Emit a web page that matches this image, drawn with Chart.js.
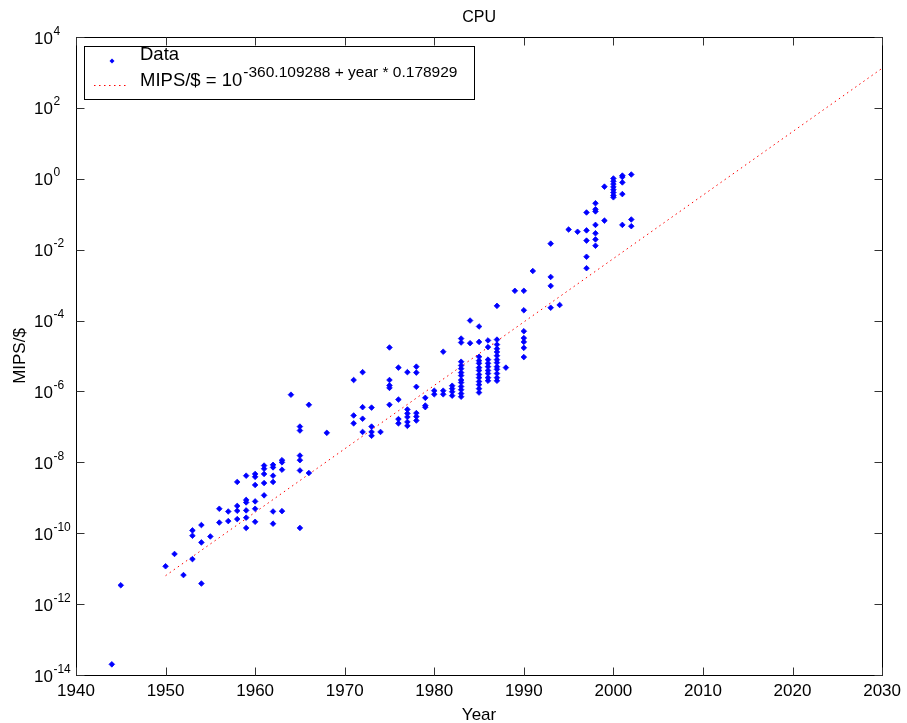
<!DOCTYPE html>
<html><head><meta charset="utf-8">
<script src="https://cdn.jsdelivr.net/npm/chart.js@4.4.0/dist/chart.umd.min.js"></script>
<style>html,body{margin:0;padding:0;background:#fff;overflow:hidden}#wrap{width:907px;height:723px;position:relative}</style>
</head><body><div id="wrap"><canvas id="c" width="907" height="723"></canvas></div>
<script>
const chartTitle = 'CPU';
const xAxisLabel = 'Year';
const yAxisLabel = 'MIPS/$';
const xTicks = [1940, 1950, 1960, 1970, 1980, 1990, 2000, 2010, 2020, 2030];
const yTickExponents = [4, 2, 0, -2, -4, -6, -8, -10, -12, -14];
const legendData = 'Data';
const legendFitBase = 'MIPS/$ = 10';
const legendFitExp = '-360.109288 + year * 0.178929';

const dataYears = [
  1944, 1945, 1950, 1951, 1952,
  1953, 1953, 1953,
  1954, 1954, 1954,
  1955,
  1956, 1956,
  1957, 1957,
  1958, 1958, 1958, 1958,
  1959, 1959, 1959, 1959, 1959, 1959,
  1960, 1960, 1960, 1960, 1960, 1960,
  1961, 1961, 1961, 1961, 1961,
  1962, 1962, 1962, 1962, 1962, 1962,
  1963, 1963, 1963, 1963,
  1964,
  1965, 1965, 1965, 1965, 1965, 1965,
  1966, 1966,
  1968,
  1971, 1971, 1971,
  1972, 1972, 1972, 1972,
  1973, 1973, 1973, 1973,
  1974,
  1975, 1975, 1975, 1975, 1975,
  1976, 1976, 1976, 1976,
  1977, 1977, 1977, 1977, 1977, 1977,
  1978, 1978, 1978, 1978, 1978, 1978,
  1979, 1979, 1979,
  1980, 1980,
  1981, 1981, 1981,
  1982, 1982, 1982, 1982,
  1983, 1983, 1983, 1983, 1983, 1983, 1983, 1983, 1983, 1983, 1983, 1983, 1983,
  1984, 1984,
  1985, 1985, 1985, 1985, 1985, 1985, 1985, 1985, 1985, 1985, 1985, 1985, 1985,
  1986, 1986, 1986, 1986, 1986, 1986, 1986, 1986, 1986,
  1987, 1987, 1987, 1987, 1987, 1987, 1987, 1987, 1987, 1987, 1987, 1987, 1987,
  1988,
  1989,
  1990, 1990, 1990, 1990, 1990, 1990, 1990,
  1991,
  1993, 1993, 1993, 1993,
  1994,
  1995,
  1996,
  1997, 1997, 1997, 1997, 1997,
  1998, 1998, 1998, 1998, 1998, 1998, 1998,
  1999, 1999,
  2000, 2000, 2000, 2000, 2000, 2000, 2000, 2000,
  2001, 2001, 2001, 2001, 2001,
  2002, 2002, 2002
];
const dataMips = [
  2.0e-14, 3.4e-12, 1.17e-11, 2.6e-11, 6.6e-12,
  1.2e-10, 8.5e-11, 1.86e-11,
  1.7e-10, 5.5e-11, 3.8e-12,
  8.1e-11,
  4.9e-10, 2.0e-10,
  4.1e-10, 2.2e-10,
  2.8e-9, 5.9e-10, 4.3e-10, 2.5e-10,
  4.2e-9, 8.7e-10, 7.4e-10, 4.4e-10, 2.75e-10, 1.41e-10,
  4.7e-9, 3.9e-9, 2.3e-9, 7.9e-10, 4.9e-10, 2.1e-10,
  8.1e-9, 6.6e-9, 4.7e-9, 2.6e-9, 1.17e-9,
  8.5e-9, 7.2e-9, 4.2e-9, 2.8e-9, 4.1e-10, 1.86e-10,
  1.15e-8, 1.0e-8, 6.2e-9, 4.2e-10,
  8.1e-7,
  1.02e-7, 7.9e-8, 1.55e-8, 1.15e-8, 5.9e-9, 1.41e-10,
  4.2e-7, 5.0e-9,
  6.8e-8,
  2.1e-6, 2.1e-7, 1.26e-7,
  3.5e-6, 3.6e-7, 1.7e-7, 7.2e-8,
  3.5e-7, 1.02e-7, 7.2e-8, 5.6e-8,
  7.2e-8,
  1.74e-5, 2.1e-6, 1.48e-6, 1.26e-6, 4.2e-7,
  4.7e-6, 5.9e-7, 1.66e-7, 1.26e-7,
  3.5e-6, 3.1e-7, 2.4e-7, 1.9e-7, 1.38e-7, 1.07e-7,
  5.0e-6, 3.4e-6, 1.35e-6, 2.45e-7, 1.95e-7, 1.51e-7,
  6.6e-7, 4.0e-7, 3.6e-7,
  1.05e-6, 8.3e-7,
  1.32e-5, 1.05e-6, 8.3e-7,
  1.45e-6, 1.2e-6, 9.8e-7, 7.6e-7,
  3.1e-5, 2.4e-5, 6.9e-6, 5.4e-6, 4.4e-6, 3.4e-6, 2.8e-6, 2.1e-6, 1.78e-6, 1.38e-6, 1.12e-6, 8.7e-7, 7.1e-7,
  1.0e-4, 2.3e-5,
  6.8e-5, 2.5e-5, 9.5e-6, 7.4e-6, 6.2e-6, 4.7e-6, 3.9e-6, 3.0e-6, 2.45e-6, 1.9e-6, 1.55e-6, 1.2e-6, 9.3e-7,
  2.75e-5, 1.78e-5, 7.9e-6, 6.2e-6, 5.0e-6, 3.9e-6, 3.2e-6, 2.45e-6, 2.0e-6,
  2.6e-4, 2.9e-5, 2.1e-5, 1.6e-5, 1.3e-5, 1.02e-5, 7.9e-6, 6.5e-6, 5.0e-6, 4.2e-6, 3.2e-6, 2.45e-6, 2.0e-6,
  4.7e-6,
  6.9e-4,
  6.9e-4, 1.95e-4, 5.0e-5, 3.2e-5, 2.5e-5, 1.7e-5, 9.3e-6,
  2.5e-3,
  1.48e-2, 1.7e-3, 9.5e-4, 2.3e-4,
  2.75e-4,
  3.7e-2,
  3.2e-2,
  0.112, 3.5e-2, 1.8e-2, 6.3e-3, 3.0e-3,
  0.204, 0.138, 0.12, 5.0e-2, 2.9e-2, 1.95e-2, 1.29e-2,
  0.60, 6.6e-2,
  1.02, 0.85, 0.71, 0.59, 0.49, 0.41, 0.34, 0.30,
  1.23, 1.12, 0.79, 0.37, 0.05,
  1.32, 0.071, 0.046
];
const fitYears = [1950, 2030];
const fitMips = [6.34e-12, 1.308e3];

const FONT = '"Liberation Sans", Arial, Helvetica, sans-serif';

const scatterPoints = dataYears.map((yr, i) => ({ x: yr, y: dataMips[i] }));
const fitPoints = fitYears.map((yr, i) => ({ x: yr, y: fitMips[i] }));

const decorPlugin = {
  id: 'decor',
  afterDraw(chart) {
    const ctx = chart.ctx;
    const a = chart.chartArea;
    const xs = chart.scales.x, ys = chart.scales.y;
    ctx.save();
    // frame
    ctx.strokeStyle = '#000';
    ctx.lineWidth = 1;
    const L = Math.round(a.left) + 0.5, T = Math.round(a.top) + 0.5;
    const R = Math.round(a.right) + 0.5, B = Math.round(a.bottom) + 0.5;
    ctx.strokeRect(L, T, R - L, B - T);
    // ticks inward
    const tl = 8;
    ctx.strokeStyle = '#333';
    ctx.beginPath();
    xTicks.forEach(v => {
      const px = Math.round(xs.getPixelForValue(v)) + 0.5;
      ctx.moveTo(px, B); ctx.lineTo(px, B - tl);
      ctx.moveTo(px, T); ctx.lineTo(px, T + tl);
    });
    yTickExponents.forEach(e => {
      const py = Math.round(ys.getPixelForValue(Math.pow(10, e))) + 0.5;
      ctx.moveTo(L, py); ctx.lineTo(L + tl, py);
      ctx.moveTo(R, py); ctx.lineTo(R - tl, py);
    });
    ctx.stroke();
    // y tick labels with superscripts
    ctx.fillStyle = '#000';
    ctx.textAlign = 'left';
    ctx.textBaseline = 'alphabetic';
    yTickExponents.forEach(e => {
      const py = ys.getPixelForValue(Math.pow(10, e));
      ctx.font = '17px ' + FONT;
      const baseX = 34;
      ctx.fillText('10', baseX, py + 6.5);
      const w = ctx.measureText('10').width;
      ctx.font = '12px ' + FONT;
      ctx.fillText(String(e), baseX + w + 0.5, py - 2.5);
    });
    // title
    ctx.font = '16px ' + FONT;
    ctx.textAlign = 'center';
    ctx.fillText(chartTitle, (a.left + a.right) / 2, 22);
    // x label
    ctx.font = '17px ' + FONT;
    ctx.fillText(xAxisLabel, (a.left + a.right) / 2, 720);
    // y label
    ctx.save();
    ctx.translate(25, (a.top + a.bottom) / 2);
    ctx.rotate(-Math.PI / 2);
    ctx.fillText(yAxisLabel, 0, 0);
    ctx.restore();
    // legend
    const lx = 84.5, ly = 46.5, lw = 390, lh = 53;
    ctx.fillStyle = '#fff';
    ctx.fillRect(lx, ly, lw, lh);
    ctx.strokeStyle = '#000';
    ctx.strokeRect(lx, ly, lw, lh);
    // marker
    ctx.fillStyle = '#0000ff';
    ctx.beginPath();
    ctx.moveTo(112, 58.5); ctx.lineTo(114.5, 61); ctx.lineTo(112, 63.5); ctx.lineTo(109.5, 61); ctx.closePath();
    ctx.fill();
    // fit sample
    ctx.strokeStyle = '#ff0000';
    ctx.setLineDash([1.5, 3.5]);
    ctx.beginPath(); ctx.moveTo(94, 85.5); ctx.lineTo(127, 85.5); ctx.stroke();
    ctx.setLineDash([]);
    ctx.fillStyle = '#000';
    ctx.textAlign = 'left';
    ctx.font = '18.5px ' + FONT;
    ctx.fillText(legendData, 140, 60);
    ctx.fillText(legendFitBase, 140, 86);
    const bw = ctx.measureText(legendFitBase).width;
    ctx.font = '15.5px ' + FONT;
    ctx.fillText(legendFitExp, 140 + bw + 1, 76.5);
    ctx.restore();
  }
};

new Chart(document.getElementById('c'), {
  type: 'scatter',
  data: {
    datasets: [
      {
        label: legendData,
        data: scatterPoints,
        pointStyle: 'rectRot',
        pointRadius: 2.8,
        pointBackgroundColor: '#0000ff',
        pointBorderColor: '#0000ff',
        pointBorderWidth: 0.8,
        showLine: false,
        order: 1
      },
      {
        label: 'fit',
        data: fitPoints,
        showLine: true,
        borderColor: '#ff0000',
        borderWidth: 1,
        borderDash: [1.5, 3.5],
        pointRadius: 0,
        fill: false,
        order: 2
      }
    ]
  },
  options: {
    responsive: false,
    animation: false,
    devicePixelRatio: 1,
    layout: { padding: { top: 37, right: 24, left: 0, bottom: 0 } },
    plugins: { legend: { display: false }, tooltip: { enabled: false }, title: { display: false } },
    scales: {
      x: {
        type: 'linear',
        min: 1940, max: 2030,
        afterBuildTicks(s) { s.ticks = xTicks.map(v => ({ value: v })); },
        afterFit(s) { s.height = 48; },
        grid: { display: false, drawTicks: false },
        border: { display: false },
        ticks: {
          autoSkip: false, maxRotation: 0, padding: 6,
          color: '#000',
          font: { family: FONT, size: 17 },
          callback: v => String(v)
        }
      },
      y: {
        type: 'logarithmic',
        min: 1e-14, max: 1e4,
        afterBuildTicks(s) { s.ticks = yTickExponents.map(e => ({ value: Math.pow(10, e) })); },
        afterFit(s) { s.width = 76; },
        grid: { display: false, drawTicks: false },
        border: { display: false },
        ticks: { display: false }
      }
    }
  },
  plugins: [decorPlugin]
});
</script>
</body></html>
